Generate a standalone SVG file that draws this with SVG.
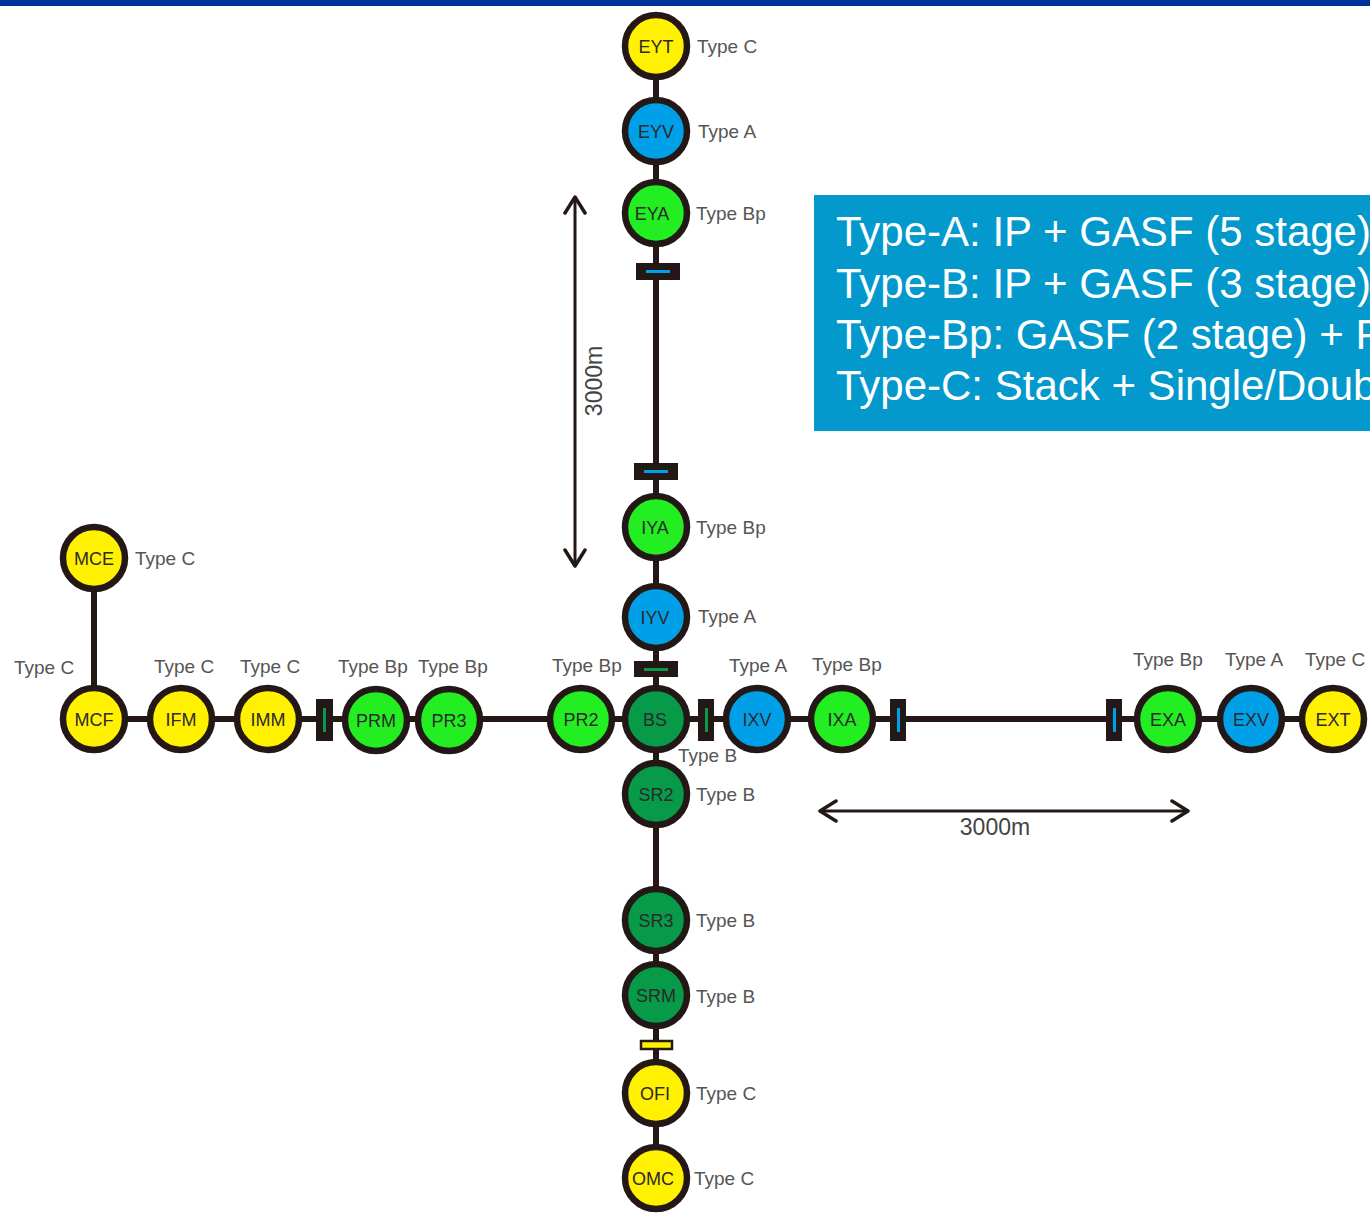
<svg xmlns="http://www.w3.org/2000/svg" width="1370" height="1214" viewBox="0 0 1370 1214">
<defs>
<style>
.n{stroke:#231815;stroke-width:6.5}
.y{fill:#FFF100}.b{fill:#00A0E9}.g{fill:#22EE22}.d{fill:#079A48}
.nt{font-family:"Liberation Sans",Arial,sans-serif;font-size:18px;fill:#2a2a2a;text-anchor:middle}
.tl{font-family:"Liberation Sans",Arial,sans-serif;font-size:19px;fill:#555555}
.ln{stroke:#231815;stroke-width:6;fill:none}
.bar{fill:#231815}
.ar{stroke:#231815;stroke-width:3;fill:none}
.lg{font-family:"Liberation Sans",Arial,sans-serif;font-size:42px;fill:#ffffff}
.dim{font-family:"Liberation Sans",Arial,sans-serif;font-size:23px;fill:#444444;text-anchor:middle}
</style>
<marker id="chev" viewBox="0 0 20 24" refX="18" refY="12" markerWidth="20" markerHeight="24" markerUnits="userSpaceOnUse" orient="auto-start-reverse">
<polyline points="2,2 18,12 2,22" fill="none" stroke="#231815" stroke-width="3.5" stroke-linecap="round" stroke-linejoin="round"/>
</marker>
<clipPath id="lgclip"><rect x="814" y="195" width="556" height="236"/></clipPath>
</defs>
<rect x="0" y="0" width="1370" height="1214" fill="#ffffff"/>
<rect x="0" y="0" width="1370" height="6" fill="#003399"/>

<g id="connectors">
<line class="ln" x1="656" y1="46" x2="656" y2="1178"/>
<line class="ln" x1="94" y1="719" x2="1333" y2="719"/>
<line class="ln" x1="94" y1="558" x2="94" y2="719"/>
<line class="ar" x1="575" y1="197" x2="575" y2="566" marker-start="url(#chev)" marker-end="url(#chev)"/>
<line class="ar" x1="820" y1="811" x2="1188" y2="811" marker-start="url(#chev)" marker-end="url(#chev)"/>
</g>

<g id="bars">
<g id="bar-ey"><rect class="bar" x="636" y="263" width="44" height="17"/><rect x="646" y="270" width="24" height="3" fill="#00A0E9"/></g>
<g id="bar-iy"><rect class="bar" x="634" y="463" width="44" height="17"/><rect x="644" y="470" width="24" height="3" fill="#00A0E9"/></g>
<g id="bar-bs-n"><rect class="bar" x="634" y="661" width="44" height="16"/><rect x="644" y="668" width="24" height="3" fill="#079A48"/></g>
<g id="bar-bs-e"><rect class="bar" x="698" y="699" width="16" height="42"/><rect x="705" y="708" width="3" height="24" fill="#079A48"/></g>
<g id="bar-pr"><rect class="bar" x="316" y="699" width="17" height="42"/><rect x="323" y="708" width="3" height="24" fill="#079A48"/></g>
<g id="bar-ix"><rect class="bar" x="890" y="699" width="16" height="42"/><rect x="897" y="708" width="3" height="24" fill="#00A0E9"/></g>
<g id="bar-ex"><rect class="bar" x="1106" y="699" width="16" height="42"/><rect x="1113" y="708" width="3" height="24" fill="#00A0E9"/></g>
<g id="bar-of"><rect x="641" y="1041" width="31" height="8" fill="#FFF100" stroke="#231815" stroke-width="2.5"/></g>
</g>

<g id="EYT"><circle class="n y" cx="656" cy="46" r="31"/><text class="nt" x="656" y="52.5">EYT</text><text class="tl" x="697" y="53">Type C</text></g>
<g id="EYV"><circle class="n b" cx="656" cy="131" r="31"/><text class="nt" x="656" y="137.5">EYV</text><text class="tl" x="698" y="138">Type A</text></g>
<g id="EYA"><circle class="n g" cx="656" cy="213" r="31"/><text class="nt" x="652" y="219.5">EYA</text><text class="tl" x="696" y="220">Type Bp</text></g>
<g id="IYA"><circle class="n g" cx="656" cy="527" r="31"/><text class="nt" x="655" y="533.5">IYA</text><text class="tl" x="696" y="534">Type Bp</text></g>
<g id="IYV"><circle class="n b" cx="656" cy="617" r="31"/><text class="nt" x="655" y="623.5">IYV</text><text class="tl" x="698" y="623">Type A</text></g>
<g id="BS"><circle class="n d" cx="656" cy="719" r="31"/><text class="nt" x="655" y="725.5">BS</text><text class="tl" x="678" y="762">Type B</text></g>
<g id="SR2"><circle class="n d" cx="656" cy="794" r="31"/><text class="nt" x="656" y="800.5">SR2</text><text class="tl" x="696" y="801">Type B</text></g>
<g id="SR3"><circle class="n d" cx="656" cy="920" r="31"/><text class="nt" x="656" y="926.5">SR3</text><text class="tl" x="696" y="927">Type B</text></g>
<g id="SRM"><circle class="n d" cx="656" cy="995" r="31"/><text class="nt" x="656" y="1001.5">SRM</text><text class="tl" x="696" y="1003">Type B</text></g>
<g id="OFI"><circle class="n y" cx="656" cy="1093" r="31"/><text class="nt" x="655" y="1099.5">OFI</text><text class="tl" x="696" y="1100">Type C</text></g>
<g id="OMC"><circle class="n y" cx="656" cy="1178" r="31"/><text class="nt" x="653" y="1184.5">OMC</text><text class="tl" x="694" y="1185">Type C</text></g>

<g id="MCE"><circle class="n y" cx="94" cy="558" r="31"/><text class="nt" x="94" y="564.5">MCE</text><text class="tl" x="135" y="565">Type C</text></g>
<g id="MCF"><circle class="n y" cx="94" cy="719" r="31"/><text class="nt" x="94" y="725.5">MCF</text><text class="tl" x="14" y="674">Type C</text></g>
<g id="IFM"><circle class="n y" cx="181" cy="719" r="31"/><text class="nt" x="181" y="725.5">IFM</text><text class="tl" x="154" y="673">Type C</text></g>
<g id="IMM"><circle class="n y" cx="268" cy="719" r="31"/><text class="nt" x="268" y="725.5">IMM</text><text class="tl" x="240" y="673">Type C</text></g>
<g id="PRM"><circle class="n g" cx="376" cy="720" r="31"/><text class="nt" x="376" y="726.5">PRM</text><text class="tl" x="338" y="673">Type Bp</text></g>
<g id="PR3"><circle class="n g" cx="449" cy="720" r="31"/><text class="nt" x="449" y="726.5">PR3</text><text class="tl" x="418" y="673">Type Bp</text></g>
<g id="PR2"><circle class="n g" cx="581" cy="719" r="31"/><text class="nt" x="581" y="725.5">PR2</text><text class="tl" x="552" y="672">Type Bp</text></g>
<g id="IXV"><circle class="n b" cx="757" cy="719" r="31"/><text class="nt" x="757" y="725.5">IXV</text><text class="tl" x="729" y="672">Type A</text></g>
<g id="IXA"><circle class="n g" cx="842" cy="719" r="31"/><text class="nt" x="842" y="725.5">IXA</text><text class="tl" x="812" y="671">Type Bp</text></g>
<g id="EXA"><circle class="n g" cx="1168" cy="719" r="31"/><text class="nt" x="1168" y="725.5">EXA</text><text class="tl" x="1133" y="666">Type Bp</text></g>
<g id="EXV"><circle class="n b" cx="1251" cy="719" r="31"/><text class="nt" x="1251" y="725.5">EXV</text><text class="tl" x="1225" y="666">Type A</text></g>
<g id="EXT"><circle class="n y" cx="1333" cy="719" r="31"/><text class="nt" x="1333" y="725.5">EXT</text><text class="tl" x="1305" y="666">Type C</text></g>

<g id="dims">
<text class="dim" x="0" y="0" transform="translate(602,381) rotate(-90)">3000m</text>
<text class="dim" x="995" y="835">3000m</text>
</g>

<g id="legend">
<rect x="814" y="195" width="556" height="236" fill="#0399CC"/>
<g clip-path="url(#lgclip)">
<text class="lg" x="836" y="246">Type-A: IP + GASF (5 stage)</text>
<text class="lg" x="836" y="298">Type-B: IP + GASF (3 stage)</text>
<text class="lg" x="836" y="349">Type-Bp: GASF (2 stage) + PF</text>
<text class="lg" x="836" y="400">Type-C: Stack + Single/Double</text>
</g>
</g>
</svg>
